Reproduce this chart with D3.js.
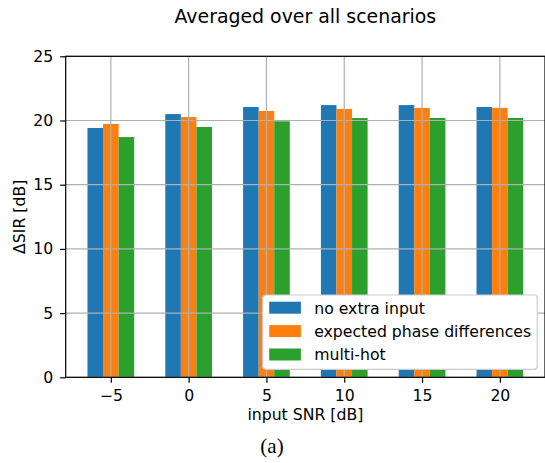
<!DOCTYPE html>
<html>
<head>
<meta charset="utf-8">
<script src="https://cdn.jsdelivr.net/npm/d3@7"></script>
<style>
  body { margin: 0; background: #fff; }
  text { font-family: "DejaVu Sans", sans-serif; fill: #000; }
</style>
</head>
<body>
<script>
// input SNR values and the three series
const snr = [-5, 0, 5, 10, 15, 20];
const noExtra = [19.42, 20.5, 21.05, 21.2, 21.2, 21.05];
const phaseDiff = [19.73, 20.27, 20.74, 20.9, 20.98, 20.98];
const multiHot = [18.71, 19.5, 19.94, 20.19, 20.2, 20.2];
const seriesNames = ["no extra input", "expected phase differences", "multi-hot"];
const colors = ["#1f77b4", "#ff7f0e", "#2ca02c"];
const yTicks = [0, 5, 10, 15, 20, 25];

const W = 545, H = 463;
const pLeft = 65.7, pRight = 545, pTop = 56.3, pBottom = 377.3;
const fs = "15.7px";

let svg = d3.select("body").append("svg").attr("width", W).attr("height", H);

let x = d3.scaleLinear().domain([-7.9, 22.9]).range([pLeft, pRight]);
let y = d3.scaleLinear().domain([0, 25]).range([pBottom, pTop]);

let series = [noExtra, phaseDiff, multiHot];
let offsets = [-1, 0, 1];
let bw = x(1) - x(0);

// bars
series.forEach(function(vals, s) {
    svg.append("g").selectAll("rect").data(vals).enter()
        .append("rect")
        .attr("x", (d, i) => x(snr[i] + offsets[s] - 0.5))
        .attr("width", bw)
        .attr("y", d => y(d))
        .attr("height", d => y(0) - y(d))
        .attr("fill", colors[s]);
});

// grid (drawn above bars like matplotlib)
let grid = svg.append("g").attr("stroke", "#b0b0b0").attr("stroke-width", 1.2);
snr.forEach(function(v) {
    grid.append("line").attr("x1", x(v)).attr("x2", x(v)).attr("y1", pTop).attr("y2", pBottom);
});
yTicks.forEach(function(v) {
    grid.append("line").attr("x1", pLeft).attr("x2", pRight).attr("y1", y(v)).attr("y2", y(v));
});

// axes
let xAxis = d3.axisBottom(x).tickValues(snr).tickSize(5.5).tickPadding(7.4)
    .tickFormat(d => d < 0 ? "\u2212" + Math.abs(d) : d);
let yAxis = d3.axisLeft(y).tickValues(yTicks).tickSize(5.5).tickPadding(7);

let gx = svg.append("g").attr("transform", "translate(0," + pBottom + ")").call(xAxis);
let gy = svg.append("g").attr("transform", "translate(" + pLeft + ",0)").call(yAxis);
[gx, gy].forEach(function(g) {
    g.select(".domain").remove();
    g.selectAll("line").attr("stroke", "#000").attr("stroke-width", 1.2);
    g.selectAll("text").style("font-size", fs).style("font-family", "DejaVu Sans");
});

// frame
svg.append("rect").attr("x", pLeft).attr("y", pTop).attr("width", pRight - pLeft)
    .attr("height", pBottom - pTop).attr("fill", "none").attr("stroke", "#000").attr("stroke-width", 1.2);

// labels
svg.append("text").attr("x", (pLeft + pRight) / 2).attr("y", 22.5).attr("text-anchor", "middle")
    .style("font-size", "18.9px").text("Averaged over all scenarios");
svg.append("text").attr("x", (pLeft + pRight) / 2).attr("y", 420).attr("text-anchor", "middle")
    .style("font-size", fs).text("input SNR [dB]");
svg.append("text").attr("transform", "translate(25," + (pTop + pBottom) / 2 + ") rotate(-90)")
    .attr("text-anchor", "middle").style("font-size", fs).text("\u0394SIR [dB]");
svg.append("text").attr("x", 272).attr("y", 453).attr("text-anchor", "middle")
    .style("font-family", "Liberation Serif").style("font-size", "21px").text("(a)");

// legend
let lg = svg.append("g").attr("transform", "translate(262.7,295)");
lg.append("rect").attr("width", 274.6).attr("height", 74.3).attr("rx", 3)
    .attr("fill", "#fff").attr("stroke", "#ccc").attr("stroke-width", 1.2);
seriesNames.forEach(function(n, i) {
    lg.append("rect").attr("x", 6.5).attr("y", 6.7 + i * 23.4).attr("width", 31.7).attr("height", 12)
        .attr("fill", colors[i]);
    lg.append("text").attr("x", 51.5).attr("y", 18.5 + i * 23.4).style("font-size", fs).text(n);
});
</script>
</body>
</html>
